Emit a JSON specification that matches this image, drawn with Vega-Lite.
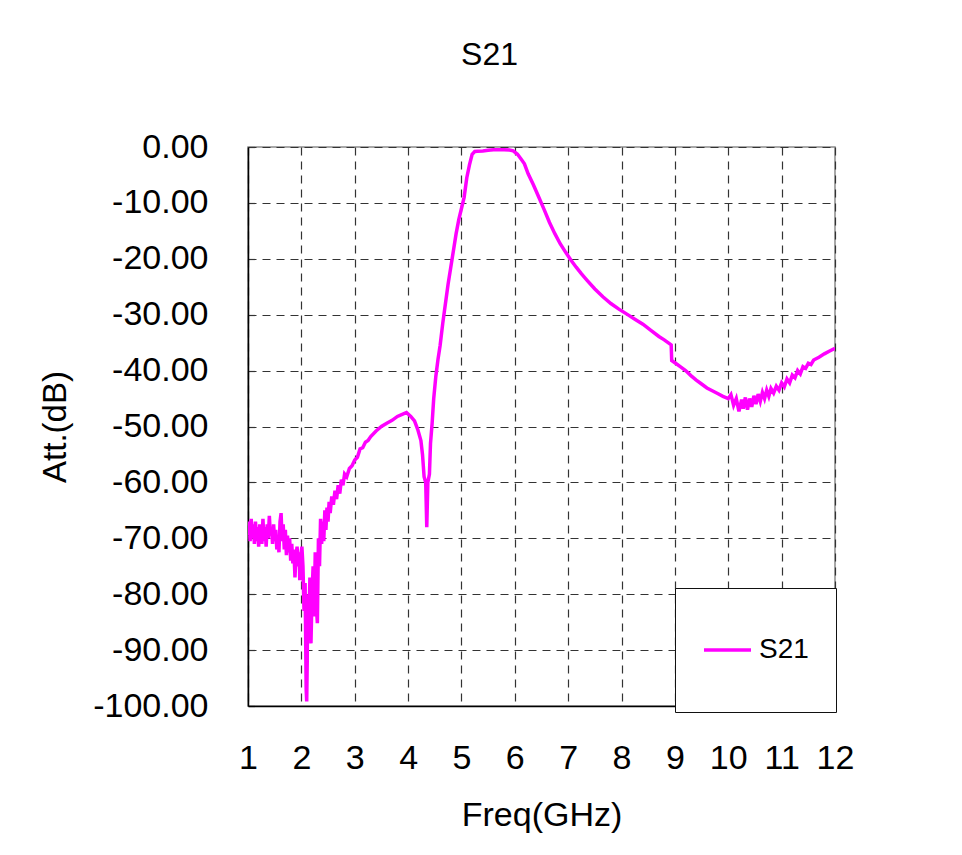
{
  "$schema": "https://vega.github.io/schema/vega-lite/v6.json",
  "width": 587,
  "height": 559,
  "autosize": {"type": "none"},
  "padding": {"left": 248, "top": 147, "right": 127, "bottom": 149},
  "background": "white",
  "title": {
    "text": "S21",
    "fontSize": 32,
    "fontWeight": "normal",
    "color": "#000",
    "anchor": "middle",
    "dx": -52,
    "dy": 46,
    "offset": 79,
    "baseline": "alphabetic"
  },
  "data": {
    "values": [
      {"f": 1.00, "db": -69.5}, {"f": 1.02, "db": -67.0}, {"f": 1.04, "db": -70.5}, {"f": 1.06, "db": -66.5},
      {"f": 1.08, "db": -70.0}, {"f": 1.10, "db": -67.5}, {"f": 1.12, "db": -71.0}, {"f": 1.14, "db": -67.0},
      {"f": 1.16, "db": -70.5}, {"f": 1.18, "db": -68.0}, {"f": 1.20, "db": -71.5}, {"f": 1.22, "db": -67.5},
      {"f": 1.24, "db": -69.0}, {"f": 1.26, "db": -71.0}, {"f": 1.28, "db": -66.5}, {"f": 1.30, "db": -70.5},
      {"f": 1.32, "db": -68.0}, {"f": 1.34, "db": -71.5}, {"f": 1.36, "db": -67.5}, {"f": 1.38, "db": -70.0},
      {"f": 1.40, "db": -66.0}, {"f": 1.42, "db": -69.5}, {"f": 1.44, "db": -68.0}, {"f": 1.46, "db": -71.0},
      {"f": 1.48, "db": -67.5}, {"f": 1.50, "db": -70.5}, {"f": 1.52, "db": -68.5}, {"f": 1.54, "db": -72.0},
      {"f": 1.56, "db": -70.0}, {"f": 1.58, "db": -72.5}, {"f": 1.60, "db": -67.0}, {"f": 1.62, "db": -65.5},
      {"f": 1.64, "db": -70.5}, {"f": 1.66, "db": -67.5}, {"f": 1.68, "db": -72.0}, {"f": 1.70, "db": -68.5},
      {"f": 1.72, "db": -73.0}, {"f": 1.74, "db": -69.5}, {"f": 1.76, "db": -72.5}, {"f": 1.78, "db": -70.0},
      {"f": 1.80, "db": -74.0}, {"f": 1.82, "db": -71.0}, {"f": 1.84, "db": -74.5}, {"f": 1.86, "db": -72.0},
      {"f": 1.88, "db": -77.0}, {"f": 1.90, "db": -73.0}, {"f": 1.92, "db": -71.5}, {"f": 1.94, "db": -75.0},
      {"f": 1.96, "db": -72.5}, {"f": 1.97, "db": -77.5}, {"f": 1.99, "db": -73.0}, {"f": 2.01, "db": -71.5},
      {"f": 2.03, "db": -75.0}, {"f": 2.05, "db": -83.0}, {"f": 2.07, "db": -78.0}, {"f": 2.09, "db": -97.0},
      {"f": 2.10, "db": -99.2}, {"f": 2.11, "db": -92.0}, {"f": 2.12, "db": -80.0}, {"f": 2.14, "db": -86.0},
      {"f": 2.16, "db": -77.0}, {"f": 2.18, "db": -88.8}, {"f": 2.20, "db": -80.0}, {"f": 2.22, "db": -75.0},
      {"f": 2.24, "db": -84.0}, {"f": 2.26, "db": -72.5}, {"f": 2.28, "db": -82.0}, {"f": 2.30, "db": -85.2},
      {"f": 2.32, "db": -70.0}, {"f": 2.34, "db": -75.0}, {"f": 2.36, "db": -66.5}, {"f": 2.38, "db": -71.0},
      {"f": 2.40, "db": -67.0}, {"f": 2.42, "db": -70.5}, {"f": 2.44, "db": -65.0}, {"f": 2.46, "db": -68.5},
      {"f": 2.48, "db": -64.5}, {"f": 2.50, "db": -67.0}, {"f": 2.52, "db": -63.5}, {"f": 2.54, "db": -65.5},
      {"f": 2.57, "db": -62.5}, {"f": 2.60, "db": -64.0}, {"f": 2.63, "db": -61.5}, {"f": 2.66, "db": -63.0},
      {"f": 2.69, "db": -60.5}, {"f": 2.72, "db": -62.0}, {"f": 2.75, "db": -59.5}, {"f": 2.78, "db": -60.5},
      {"f": 2.81, "db": -58.5}, {"f": 2.85, "db": -59.0}, {"f": 2.90, "db": -57.5}, {"f": 2.95, "db": -57.0},
      {"f": 3.00, "db": -56.0}, {"f": 3.05, "db": -55.5}, {"f": 3.10, "db": -54.0}, {"f": 3.15, "db": -53.8},
      {"f": 3.20, "db": -52.8}, {"f": 3.25, "db": -52.5}, {"f": 3.30, "db": -51.8}, {"f": 3.40, "db": -50.8},
      {"f": 3.50, "db": -50.0}, {"f": 3.60, "db": -49.4}, {"f": 3.70, "db": -48.9}, {"f": 3.80, "db": -48.2},
      {"f": 3.90, "db": -47.8}, {"f": 3.97, "db": -47.5}, {"f": 4.05, "db": -48.2}, {"f": 4.12, "db": -49.0},
      {"f": 4.18, "db": -50.5}, {"f": 4.24, "db": -52.5}, {"f": 4.27, "db": -55.0}, {"f": 4.30, "db": -59.0},
      {"f": 4.33, "db": -60.0}, {"f": 4.35, "db": -68.0}, {"f": 4.37, "db": -60.0}, {"f": 4.40, "db": -58.5},
      {"f": 4.42, "db": -53.0}, {"f": 4.45, "db": -49.5}, {"f": 4.48, "db": -45.0}, {"f": 4.52, "db": -41.0},
      {"f": 4.56, "db": -38.0}, {"f": 4.60, "db": -35.5}, {"f": 4.65, "db": -31.5}, {"f": 4.70, "db": -28.0},
      {"f": 4.75, "db": -24.5}, {"f": 4.80, "db": -21.5}, {"f": 4.85, "db": -18.5}, {"f": 4.90, "db": -15.5},
      {"f": 4.95, "db": -13.0}, {"f": 5.00, "db": -11.0}, {"f": 5.05, "db": -9.0}, {"f": 5.10, "db": -5.5},
      {"f": 5.15, "db": -3.2}, {"f": 5.20, "db": -1.3}, {"f": 5.25, "db": -0.8}, {"f": 5.30, "db": -0.75},
      {"f": 5.40, "db": -0.7}, {"f": 5.50, "db": -0.6}, {"f": 5.60, "db": -0.5}, {"f": 5.70, "db": -0.5},
      {"f": 5.80, "db": -0.5}, {"f": 5.90, "db": -0.55}, {"f": 5.97, "db": -0.7}, {"f": 6.05, "db": -1.3},
      {"f": 6.12, "db": -2.2}, {"f": 6.18, "db": -3.0}, {"f": 6.25, "db": -4.8}, {"f": 6.35, "db": -6.8},
      {"f": 6.45, "db": -9.0}, {"f": 6.55, "db": -11.2}, {"f": 6.65, "db": -13.5}, {"f": 6.75, "db": -15.5},
      {"f": 6.85, "db": -17.3}, {"f": 6.95, "db": -18.8}, {"f": 7.05, "db": -20.2}, {"f": 7.15, "db": -21.5},
      {"f": 7.25, "db": -22.7}, {"f": 7.35, "db": -23.8}, {"f": 7.50, "db": -25.4}, {"f": 7.65, "db": -26.8},
      {"f": 7.80, "db": -28.0}, {"f": 7.95, "db": -29.0}, {"f": 8.10, "db": -29.9}, {"f": 8.25, "db": -30.8},
      {"f": 8.40, "db": -31.7}, {"f": 8.55, "db": -32.8}, {"f": 8.70, "db": -33.9}, {"f": 8.80, "db": -34.5},
      {"f": 8.93, "db": -35.4}, {"f": 8.94, "db": -38.2}, {"f": 9.00, "db": -38.6}, {"f": 9.10, "db": -39.3},
      {"f": 9.20, "db": -40.0}, {"f": 9.30, "db": -40.9}, {"f": 9.40, "db": -41.7}, {"f": 9.50, "db": -42.4},
      {"f": 9.60, "db": -43.1}, {"f": 9.70, "db": -43.6}, {"f": 9.80, "db": -44.1}, {"f": 9.90, "db": -44.6},
      {"f": 10.00, "db": -45.0}, {"f": 10.05, "db": -44.3}, {"f": 10.10, "db": -46.2}, {"f": 10.15, "db": -45.0},
      {"f": 10.20, "db": -47.3}, {"f": 10.25, "db": -45.2}, {"f": 10.28, "db": -46.8}, {"f": 10.32, "db": -44.8},
      {"f": 10.36, "db": -47.0}, {"f": 10.40, "db": -45.0}, {"f": 10.44, "db": -46.5}, {"f": 10.48, "db": -44.5},
      {"f": 10.52, "db": -46.0}, {"f": 10.56, "db": -44.2}, {"f": 10.60, "db": -45.5}, {"f": 10.64, "db": -43.9},
      {"f": 10.68, "db": -45.0}, {"f": 10.72, "db": -43.5}, {"f": 10.76, "db": -44.6}, {"f": 10.80, "db": -43.2},
      {"f": 10.85, "db": -44.0}, {"f": 10.90, "db": -42.8}, {"f": 10.95, "db": -43.5}, {"f": 11.00, "db": -42.2},
      {"f": 11.05, "db": -42.9}, {"f": 11.10, "db": -41.5}, {"f": 11.15, "db": -42.2}, {"f": 11.20, "db": -40.8},
      {"f": 11.25, "db": -41.3}, {"f": 11.30, "db": -40.0}, {"f": 11.35, "db": -40.6}, {"f": 11.40, "db": -39.3},
      {"f": 11.45, "db": -39.6}, {"f": 11.50, "db": -38.7}, {"f": 11.55, "db": -38.9}, {"f": 11.60, "db": -38.1},
      {"f": 11.70, "db": -37.6}, {"f": 11.80, "db": -37.0}, {"f": 11.90, "db": -36.5}, {"f": 12.00, "db": -36.0}
    ]
  },
  "mark": {"type": "line", "strokeWidth": 3.5, "clip": true},
  "encoding": {
    "x": {
      "field": "f",
      "type": "quantitative",
      "scale": {"domain": [1, 12], "nice": false, "zero": false},
      "axis": {
        "values": [1, 2, 3, 4, 5, 6, 7, 8, 9, 10, 11, 12],
        "format": "d",
        "labelFlush": false,
        "labelFontSize": 34,
        "labelPadding": 35,
        "title": "Freq(GHz)",
        "titleY": 119,
        "titleBaseline": "alphabetic"
      }
    },
    "y": {
      "field": "db",
      "type": "quantitative",
      "scale": {"domain": [-100, 0], "nice": false, "zero": false},
      "axis": {
        "values": [0, -10, -20, -30, -40, -50, -60, -70, -80, -90, -100],
        "labelExpr": "(datum.value < 0 ? '-' : '') + format(abs(datum.value), '.2f')",
        "labelFlush": false,
        "labelFontSize": 34,
        "labelPadding": 40,
        "title": "Att.(dB)",
        "titleFontSize": 33,
        "titleX": -193,
        "titleY": 279.5,
        "titleAngle": -90,
        "titleAlign": "center",
        "titleBaseline": "middle"
      }
    },
    "color": {
      "datum": "S21",
      "scale": {"range": ["#ff00ff"]},
      "legend": {
        "title": null,
        "orient": "none",
        "legendX": 427,
        "legendY": 441,
        "symbolType": "stroke",
        "symbolSize": 2209,
        "symbolStrokeWidth": 3.5,
        "clipHeight": 70,
        "labelFontSize": 28,
        "labelColor": "#000",
        "labelOffset": 6,
        "padding": 27,
        "strokeColor": "#111",
        "fillColor": "white"
      }
    }
  },
  "config": {
    "font": "Liberation Sans",
    "view": {"stroke": "#8c8c8c", "strokeWidth": 1.5},
    "axis": {
      "grid": true,
      "gridDash": [8, 6],
      "gridColor": "#333",
      "gridWidth": 1.2,
      "gridOpacity": 1,
      "ticks": false,
      "domainColor": "#000",
      "domainWidth": 1.5,
      "labelColor": "#000",
      "titleFontSize": 34,
      "titleFontWeight": "normal",
      "titleColor": "#000"
    }
  }
}
